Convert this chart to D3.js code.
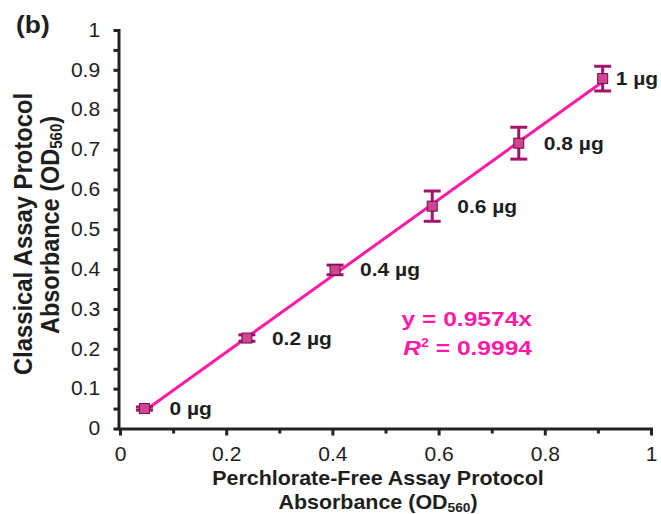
<!DOCTYPE html>
<html>
<head>
<meta charset="utf-8">
<script src="https://cdn.jsdelivr.net/npm/d3@7"></script>
<style>
body { margin: 0; background: #fff; }
text { font-family: "Liberation Sans", Arial, sans-serif; fill: #1e1e1e; }
</style>
</head>
<body>
<script>
// values
var amounts = ["0 µg", "0.2 µg", "0.4 µg", "0.6 µg", "0.8 µg", "1 µg"];
var freeAbs = [0.046, 0.239, 0.405, 0.588, 0.751, 0.909];
var classicalAbs = [0.050, 0.227, 0.398, 0.558, 0.716, 0.878];
var classicalErr = [0.004, 0.008, 0.012, 0.038, 0.040, 0.031];
var slope = 0.9574;
var rSquared = "0.9994";

// tick values
var xMajor = [0, 0.2, 0.4, 0.6, 0.8, 1];
var xMinor = [0.1, 0.3, 0.5, 0.7, 0.9];
var yMajor = [0, 0.1, 0.2, 0.3, 0.4, 0.5, 0.6, 0.7, 0.8, 0.9, 1];
var yMinor = [0.05, 0.15, 0.25, 0.35, 0.45, 0.55, 0.65, 0.75, 0.85, 0.95];

var svgWidth = 661;
var svgHeight = 514;

var margin = { top: 30, left: 120, right: 10, bottom: 85.5 };
var chartWidth = 531;
var chartHeight = svgHeight - margin.top - margin.bottom;

var pink = "#ff1aa6";
var barColor = "#a3126b";

var svg = d3.select("body").append("svg").attr("width", svgWidth).attr("height", svgHeight);
var chartGroup = svg.append("g").attr("transform", `translate(${margin.left},${margin.top})`);

var xScale = d3.scaleLinear().domain([0, 1]).range([0, chartWidth]);
var yScale = d3.scaleLinear().domain([0, 1]).range([chartHeight, 0]);

var fmt = d3.format("~g");

// x axis, major + minor ticks
chartGroup.append("g")
    .attr("transform", `translate(0,${chartHeight})`)
    .call(d3.axisBottom(xScale).tickValues(xMajor).tickSize(7).tickSizeOuter(0).tickPadding(12).tickFormat(fmt));
chartGroup.append("g")
    .attr("transform", `translate(0,${chartHeight})`)
    .call(d3.axisBottom(xScale).tickValues(xMinor).tickSize(5).tickFormat(""))
    .select(".domain").remove();

// y axis, major + minor ticks
chartGroup.append("g")
    .attr("transform", "translate(-1.5,0)")
    .call(d3.axisLeft(yScale).tickValues(yMajor).tickSize(5).tickSizeOuter(0).tickPadding(12).tickFormat(fmt));
chartGroup.append("g")
    .attr("transform", "translate(-1.5,0)")
    .call(d3.axisLeft(yScale).tickValues(yMinor).tickSize(5).tickFormat(""))
    .select(".domain").remove();

chartGroup.selectAll(".domain").attr("stroke", "#222").attr("stroke-width", 3).attr("stroke-linecap", "square");
chartGroup.selectAll(".tick line").attr("stroke", "#222").attr("stroke-width", 3);
chartGroup.selectAll(".tick text")
    .attr("font-size", 19.5)
    .attr("font-family", "Liberation Sans, Arial, sans-serif")
    .attr("fill", "#1e1e1e")
    .attr("transform", "scale(1.08,1)");

// trendline y = slope * x over the measured range
var xExt = d3.extent(freeAbs);
chartGroup.append("line")
    .attr("x1", xScale(xExt[0]))
    .attr("y1", yScale(slope * xExt[0]))
    .attr("x2", xScale(xExt[1]))
    .attr("y2", yScale(slope * xExt[1]))
    .attr("stroke", pink)
    .attr("stroke-width", 3);

var points = amounts.map((a, i) => ({ label: a, x: freeAbs[i], y: classicalAbs[i], err: classicalErr[i] }));

// error bars
var bars = chartGroup.append("g").selectAll("g").data(points).enter().append("g")
    .attr("stroke", barColor).attr("stroke-width", 3);
bars.append("line")
    .attr("x1", d => xScale(d.x)).attr("x2", d => xScale(d.x))
    .attr("y1", d => yScale(d.y - d.err)).attr("y2", d => yScale(d.y + d.err));
bars.append("line")
    .attr("x1", d => xScale(d.x) - 8.5).attr("x2", d => xScale(d.x) + 8.5)
    .attr("y1", d => yScale(d.y + d.err)).attr("y2", d => yScale(d.y + d.err));
bars.append("line")
    .attr("x1", d => xScale(d.x) - 8.5).attr("x2", d => xScale(d.x) + 8.5)
    .attr("y1", d => yScale(d.y - d.err)).attr("y2", d => yScale(d.y - d.err));

// square markers
chartGroup.append("g").selectAll("rect").data(points).enter().append("rect")
    .attr("x", d => xScale(d.x) - 5)
    .attr("y", d => yScale(d.y) - 5)
    .attr("width", 10)
    .attr("height", 10)
    .attr("fill", "#d04592")
    .attr("stroke", "#6e0d45")
    .attr("stroke-width", 1);

// point labels
chartGroup.append("g").selectAll("text").data(points).enter().append("text")
    .text(d => d.label)
    .attr("transform", (d, i) => `translate(${xScale(d.x) + (i === points.length - 1 ? 13 : 25)},${yScale(d.y) + 6.5}) scale(1.13,1)`)
    .attr("font-size", 18.6)
    .attr("font-weight", "bold");

// equation
var eqGroup = chartGroup.append("g");
eqGroup.append("text")
    .attr("transform", "translate(412,295.7) scale(1.17,1)")
    .attr("text-anchor", "end")
    .attr("font-size", 21)
    .attr("font-weight", "bold")
    .style("fill", pink)
    .text("y = " + slope + "x");
var r2 = eqGroup.append("text")
    .attr("transform", "translate(412,325) scale(1.17,1)")
    .attr("text-anchor", "end")
    .attr("font-size", 21)
    .attr("font-weight", "bold")
    .style("fill", pink);
r2.append("tspan").attr("font-style", "italic").text("R");
r2.append("tspan").attr("font-size", 12).attr("dy", -8).text("2");
r2.append("tspan").attr("dy", 8).text(" = " + rSquared);

// x axis title
var xTitle = svg.append("g").attr("font-weight", "bold");
xTitle.append("text")
    .attr("transform", "translate(378,484.5) scale(1.1,1)")
    .attr("text-anchor", "middle")
    .attr("font-size", 19.5)
    .text("Perchlorate-Free Assay Protocol");
var xt2 = xTitle.append("text")
    .attr("transform", "translate(378,509) scale(1.1,1)")
    .attr("text-anchor", "middle")
    .attr("font-size", 19.5);
xt2.append("tspan").text("Absorbance (OD");
xt2.append("tspan").attr("font-size", 12.5).attr("dy", 3).text("560");
xt2.append("tspan").attr("dy", -3).text(")");

// y axis title
var yTitle = svg.append("g").attr("font-weight", "bold");
yTitle.append("text")
    .attr("transform", "translate(31.7,234) rotate(-90) scale(1,1.08)")
    .attr("text-anchor", "middle")
    .attr("font-size", 23.8)
    .text("Classical Assay Protocol");
var yt2 = yTitle.append("text")
    .attr("transform", "translate(58.5,225) rotate(-90) scale(1,1.08)")
    .attr("text-anchor", "middle")
    .attr("font-size", 23.5);
yt2.append("tspan").text("Absorbance (OD");
yt2.append("tspan").attr("font-size", 15).attr("dy", 3.5).text("560");
yt2.append("tspan").attr("dy", -3.5).text(")");

// panel letter
svg.append("text")
    .attr("transform", "translate(16,33) scale(1.1,1)")
    .attr("font-size", 24)
    .attr("font-weight", "bold")
    .text("(b)");
</script>
</body>
</html>
